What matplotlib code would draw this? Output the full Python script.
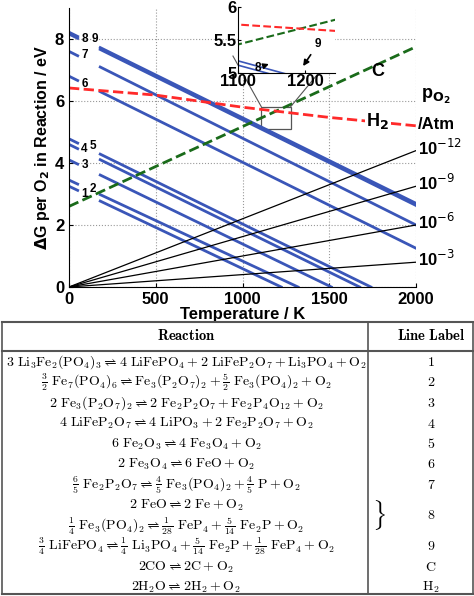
import matplotlib.pyplot as plt
import numpy as np

# blue reaction lines: value at T=0 and either value at T=2000 or T where it hits 0
line_ids = ['1', '2', '3', '4', '5', '6', '7', '8', '9']
g_at_0 = [3.25, 3.45, 4.1, 4.6, 4.78, 6.8, 7.6, 8.22, 8.16]
g_end_T = [1223, 1320, 1512, 1675, 1740, 2000, 2000, 2000, 2000]
g_end_val = [0, 0, 0, 0, 0, 1.25, 2.0, 2.7, 2.63]

po2_labels = ['10$^{-12}$', '10$^{-9}$', '10$^{-6}$', '10$^{-3}$']
po2_at_2000 = [4.4, 3.25, 2.0, 0.8]

c_T = [0, 2000]
c_G = [2.6, 7.75]
h2_T = [0, 500, 1000, 1500, 2000]
h2_G = [6.42, 6.19, 5.8, 5.47, 5.2]

reactions = [
    r'$3\ \mathrm{Li_3Fe_2(PO_4)_3} \rightleftharpoons 4\ \mathrm{LiFePO_4} + 2\ \mathrm{LiFeP_2O_7} + \mathrm{Li_3PO_4} + \mathrm{O_2}$',
    r'$\frac{3}{2}\ \mathrm{Fe_7(PO_4)_6} \rightleftharpoons \mathrm{Fe_3(P_2O_7)_2} + \frac{5}{2}\ \mathrm{Fe_3(PO_4)_2} + \mathrm{O_2}$',
    r'$2\ \mathrm{Fe_3(P_2O_7)_2} \rightleftharpoons 2\ \mathrm{Fe_2P_2O_7} + \mathrm{Fe_2P_4O_{12}} + \mathrm{O_2}$',
    r'$4\ \mathrm{LiFeP_2O_7} \rightleftharpoons 4\ \mathrm{LiPO_3} + 2\ \mathrm{Fe_2P_2O_7} + \mathrm{O_2}$',
    r'$6\ \mathrm{Fe_2O_3} \rightleftharpoons 4\ \mathrm{Fe_3O_4} + \mathrm{O_2}$',
    r'$2\ \mathrm{Fe_3O_4} \rightleftharpoons 6\ \mathrm{FeO} + \mathrm{O_2}$',
    r'$\frac{6}{5}\ \mathrm{Fe_2P_2O_7} \rightleftharpoons \frac{4}{5}\ \mathrm{Fe_3(PO_4)_2} + \frac{4}{5}\ \mathrm{P} + \mathrm{O_2}$',
    r'$2\ \mathrm{FeO} \rightleftharpoons 2\ \mathrm{Fe} + \mathrm{O_2}$',
    r'$\frac{1}{4}\ \mathrm{Fe_3(PO_4)_2} \rightleftharpoons \frac{1}{28}\ \mathrm{FeP_4} + \frac{5}{14}\ \mathrm{Fe_2P} + \mathrm{O_2}$',
    r'$\frac{3}{4}\ \mathrm{LiFePO_4} \rightleftharpoons \frac{1}{4}\ \mathrm{Li_3PO_4} + \frac{5}{14}\ \mathrm{Fe_2P} + \frac{1}{28}\ \mathrm{FeP_4} + \mathrm{O_2}$',
    r'$2\mathrm{CO} \rightleftharpoons 2\mathrm{C} + \mathrm{O_2}$',
    r'$2\mathrm{H_2O} \rightleftharpoons 2\mathrm{H_2} + \mathrm{O_2}$',
]
row_labels = ['1', '2', '3', '4', '5', '6', '7', '', '', '9', 'C', 'H$_2$']

plt.rcParams['mathtext.fontset'] = 'cm'
plt.rcParams['font.family'] = 'Liberation Sans'
SB = dict(fontweight='bold', math_fontfamily='dejavusans')

fig = plt.figure(figsize=(4.74, 5.96), dpi=100)
ax = fig.add_axes([69/474, 1-287/596, 347/474, 279/596])

blue = '#3a56b8'
gap_a, gap_b = 50, 180
for g0, tz, gz in zip(g_at_0, g_end_T, g_end_val):
    slope = (gz - g0) / tz
    ax.plot([0, gap_a], [g0, g0 + slope*gap_a], color=blue, lw=2)
    ax.plot([gap_b, tz], [g0 + slope*gap_b, gz], color=blue, lw=2)

for v in po2_at_2000:
    ax.plot([0, 2000], [0, v], color='black', lw=0.9)

ax.plot(c_T, c_G, color='#1a6b1a', ls='--', lw=2)
ax.plot(h2_T, h2_G, color='#ff2a2a', ls='--', lw=2)

# line labels in the gap
lab_pos = {'1': (90, 3.0), '2': (135, 3.15), '3': (90, 3.95), '4': (90, 4.45),
           '5': (140, 4.55), '6': (90, 6.55), '7': (90, 7.5), '8': (90, 8.0), '9': (150, 8.0)}
for k, (x, y) in lab_pos.items():
    ax.text(x, y, k, fontsize=8.5, fontweight='bold', ha='center', va='center')

ax.text(1780, 6.95, 'C', fontsize=13, ha='center', va='center', **SB)
ax.text(1780, 5.35, r'H$_\mathbf{2}$', fontsize=13, ha='center', va='center',
        bbox=dict(fc='white', ec='none', pad=1), **SB)
ax.text(2030, 6.15, r'p$_{\mathbf{O_2}}$', fontsize=13, ha='left', va='center', clip_on=False, **SB)
ax.text(2010, 5.25, '/Atm', fontsize=12, ha='left', va='center', clip_on=False, **SB)
for lab, v in zip(po2_labels, po2_at_2000):
    ax.text(2010, v + 0.1, lab, fontsize=12, ha='left', va='center', clip_on=False, **SB)

ax.set_xlim(0, 2000)
ax.set_ylim(0, 9)
ax.set_xticks([0, 500, 1000, 1500, 2000])
ax.set_yticks([0, 2, 4, 6, 8])
ax.tick_params(labelsize=12, direction='in', length=3)
for t in ax.get_xticklabels() + ax.get_yticklabels():
    t.set_fontweight('bold')
ax.grid(True, ls=':', color='#999999', lw=0.8)
for s in ['top', 'right']:
    ax.spines[s].set_visible(False)
ax.set_xlabel('Temperature / K', fontsize=12, labelpad=0, **SB)
ax.set_ylabel(r'$\mathbf{\Delta}$G per O$_\mathbf{2}$ in Reaction / eV', fontsize=11.5,
              labelpad=2, **SB)

# zoom box and inset
ax.add_patch(plt.Rectangle((1108, 5.1), 170, 0.72, fill=False, ec='#555555', lw=0.9))
ax.plot([1108, 945], [5.82, 7.45], color='#555555', lw=0.8)
ax.plot([1278, 1520], [5.82, 7.45], color='#555555', lw=0.8)
ins = fig.add_axes([238/474, 1-73/596, 97/474, 66/596])
for g0, tz, gz in zip(g_at_0[7:], g_end_T[7:], g_end_val[7:]):
    ins.plot([0, tz], [g0, gz], color=blue, lw=1.2)
ins.plot(c_T, c_G, color='#1a6b1a', ls='--', lw=1.5)
ins.plot(h2_T, h2_G, color='#ff2a2a', ls='--', lw=1.5)
ins.set_xlim(1100, 1245)
ins.set_ylim(5, 6)
ins.set_xticks([1100, 1200])
ins.set_yticks([5, 5.5, 6])
ins.set_yticklabels(['5', '5.5', '6'])
ins.tick_params(labelsize=12, direction='in', length=2, pad=1)
for t in ins.get_xticklabels() + ins.get_yticklabels():
    t.set_fontweight('bold')
ins.spines['top'].set_visible(False)
ins.spines['right'].set_visible(False)
ins.annotate('8', xy=(1150, 5.15), xytext=(1125, 5.03), fontsize=8.5, fontweight='bold',
             arrowprops=dict(arrowstyle='-|>', color='black', lw=1))
ins.annotate('9', xy=(1195, 5.07), xytext=(1215, 5.4), fontsize=8.5, fontweight='bold',
             arrowprops=dict(arrowstyle='-|>', color='black', lw=1.2))

# table
tx0, tx1, tdiv = 2/474, 473/474, 368/474
ttop, thead, tbot = 1-322/596, 1-351/596, 1-594/596
for y, lw in [(ttop, 1.5), (thead, 1.5), (tbot, 1.5)]:
    fig.add_artist(plt.Line2D([tx0, tx1], [y, y], color='#555555', lw=lw))
for x in [tx0, tdiv, tx1]:
    fig.add_artist(plt.Line2D([x, x], [tbot, ttop], color='#555555', lw=1.2))
fig.text(186/474, 1-336/596, r'$\mathbf{Reaction}$', ha='center', va='center', fontsize=10.5)
fig.text(431/474, 1-336/596, r'$\mathbf{Line\ Label}$', ha='center', va='center', fontsize=10.5)
for i, (r, l) in enumerate(zip(reactions, row_labels)):
    y = 1 - (362 + i*20.5)/596
    fig.text(186/474, y, r, ha='center', va='center', fontsize=10)
    if l:
        fig.text(431/474, y, '$\\mathrm{' + l.replace('$', '') + '}$', ha='center', va='center', fontsize=10)
fig.text(431/474, 1-515/596, r'$\mathrm{8}$', ha='center', va='center', fontsize=10)
fig.text(379/474, 1-515/596, r'$\}$', ha='center', va='center', fontsize=18)

fig.savefig('out.png', dpi=100)
